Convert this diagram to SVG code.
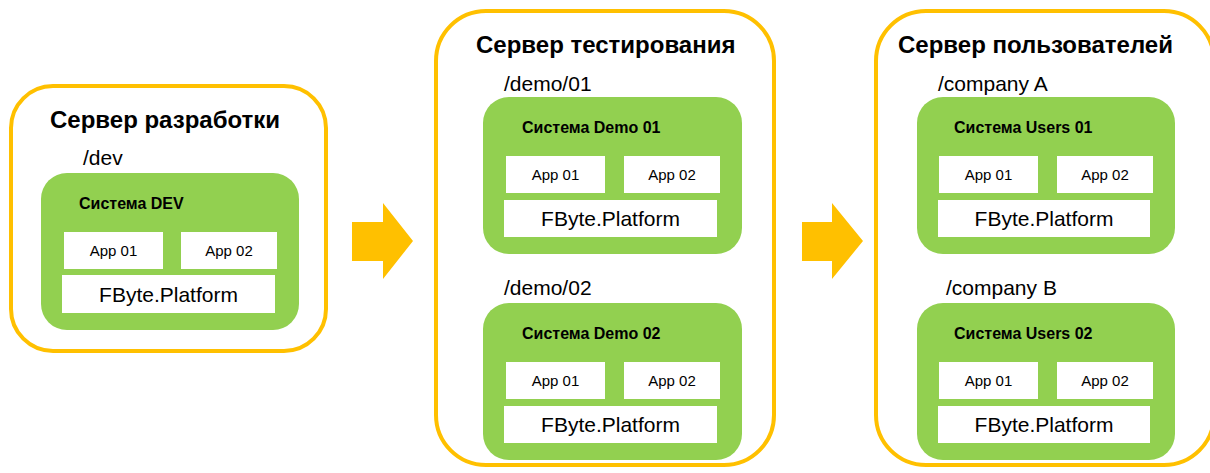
<svg xmlns="http://www.w3.org/2000/svg" width="1210" height="473" viewBox="0 0 1210 473">
<style>
.srv{fill:#fff;stroke:#FFC000;stroke-width:4}
.sys{fill:#92D050}
.wb{fill:#fff}
.title{font-family:"Liberation Sans",Arial,sans-serif;font-weight:bold;font-size:24px;fill:#000}
.path{font-family:"Liberation Sans",Arial,sans-serif;font-size:21px;fill:#000}
.sysl{font-family:"Liberation Sans",Arial,sans-serif;font-weight:bold;font-size:16px;fill:#000}
.app{font-family:"Liberation Sans",Arial,sans-serif;font-size:15px;fill:#000;text-anchor:middle}
.plat{font-family:"Liberation Sans",Arial,sans-serif;font-size:21px;fill:#000;text-anchor:middle}
.arr{fill:#FFC000}
</style>
<g id="server-dev">
<rect class="srv" x="11" y="86" width="315" height="265" rx="42"/>
<text class="title" x="50" y="128">Сервер разработки</text>
<text class="path" x="83" y="165">/dev</text>
<g id="sys-dev">
<rect class="sys" x="41" y="173" width="258" height="157" rx="26"/>
<text class="sysl" x="79" y="209">Система DEV</text>
<rect class="wb" x="64" y="232" width="99" height="37"/>
<text class="app" x="113.5" y="256">App 01</text>
<rect class="wb" x="181" y="232" width="96" height="37"/>
<text class="app" x="229" y="256">App 02</text>
<rect class="wb" x="62" y="275" width="213" height="38"/>
<text class="plat" x="168.5" y="302">FByte.Platform</text>
</g>
</g>
<g id="server-test">
<rect class="srv" x="436" y="11" width="338" height="454" rx="50"/>
<text class="title" x="476" y="53">Сервер тестирования</text>
<text class="path" x="504" y="91">/demo/01</text>
<g id="sys-demo01">
<rect class="sys" x="483" y="97" width="259" height="157" rx="26"/>
<text class="sysl" x="522" y="133">Система Demo 01</text>
<rect class="wb" x="506" y="156" width="99" height="37"/>
<text class="app" x="555.5" y="180">App 01</text>
<rect class="wb" x="624" y="156" width="96" height="37"/>
<text class="app" x="672" y="180">App 02</text>
<rect class="wb" x="504" y="200" width="213" height="37"/>
<text class="plat" x="610.5" y="226">FByte.Platform</text>
</g>
<text class="path" x="504" y="295">/demo/02</text>
<g id="sys-demo02">
<rect class="sys" x="483" y="303" width="259" height="157" rx="26"/>
<text class="sysl" x="522" y="339">Система Demo 02</text>
<rect class="wb" x="506" y="362" width="99" height="37"/>
<text class="app" x="555.5" y="386">App 01</text>
<rect class="wb" x="624" y="362" width="96" height="37"/>
<text class="app" x="672" y="386">App 02</text>
<rect class="wb" x="504" y="406" width="213" height="37"/>
<text class="plat" x="610.5" y="432">FByte.Platform</text>
</g>
</g>
<g id="server-users">
<rect class="srv" x="876" y="11" width="338" height="454" rx="50"/>
<text class="title" x="898" y="53">Сервер пользователей</text>
<text class="path" x="938" y="91">/company A</text>
<g id="sys-users01">
<rect class="sys" x="917" y="97" width="258" height="157" rx="26"/>
<text class="sysl" x="954" y="133">Система Users 01</text>
<rect class="wb" x="939" y="156" width="99" height="37"/>
<text class="app" x="988.5" y="180">App 01</text>
<rect class="wb" x="1057" y="156" width="96" height="37"/>
<text class="app" x="1105" y="180">App 02</text>
<rect class="wb" x="938" y="200" width="212" height="37"/>
<text class="plat" x="1044" y="226">FByte.Platform</text>
</g>
<text class="path" x="946" y="295">/company B</text>
<g id="sys-users02">
<rect class="sys" x="917" y="303" width="258" height="157" rx="26"/>
<text class="sysl" x="954" y="339">Система Users 02</text>
<rect class="wb" x="939" y="362" width="99" height="37"/>
<text class="app" x="988.5" y="386">App 01</text>
<rect class="wb" x="1057" y="362" width="96" height="37"/>
<text class="app" x="1105" y="386">App 02</text>
<rect class="wb" x="938" y="406" width="212" height="37"/>
<text class="plat" x="1044" y="432">FByte.Platform</text>
</g>
</g>
<g id="connectors">
<polygon class="arr" points="352,222 383,222 383,203 413,241 383,279 383,261 352,261"/>
<polygon class="arr" points="802,222 832,222 832,203 863,241 832,279 832,261 802,261"/>
</g>
</svg>
